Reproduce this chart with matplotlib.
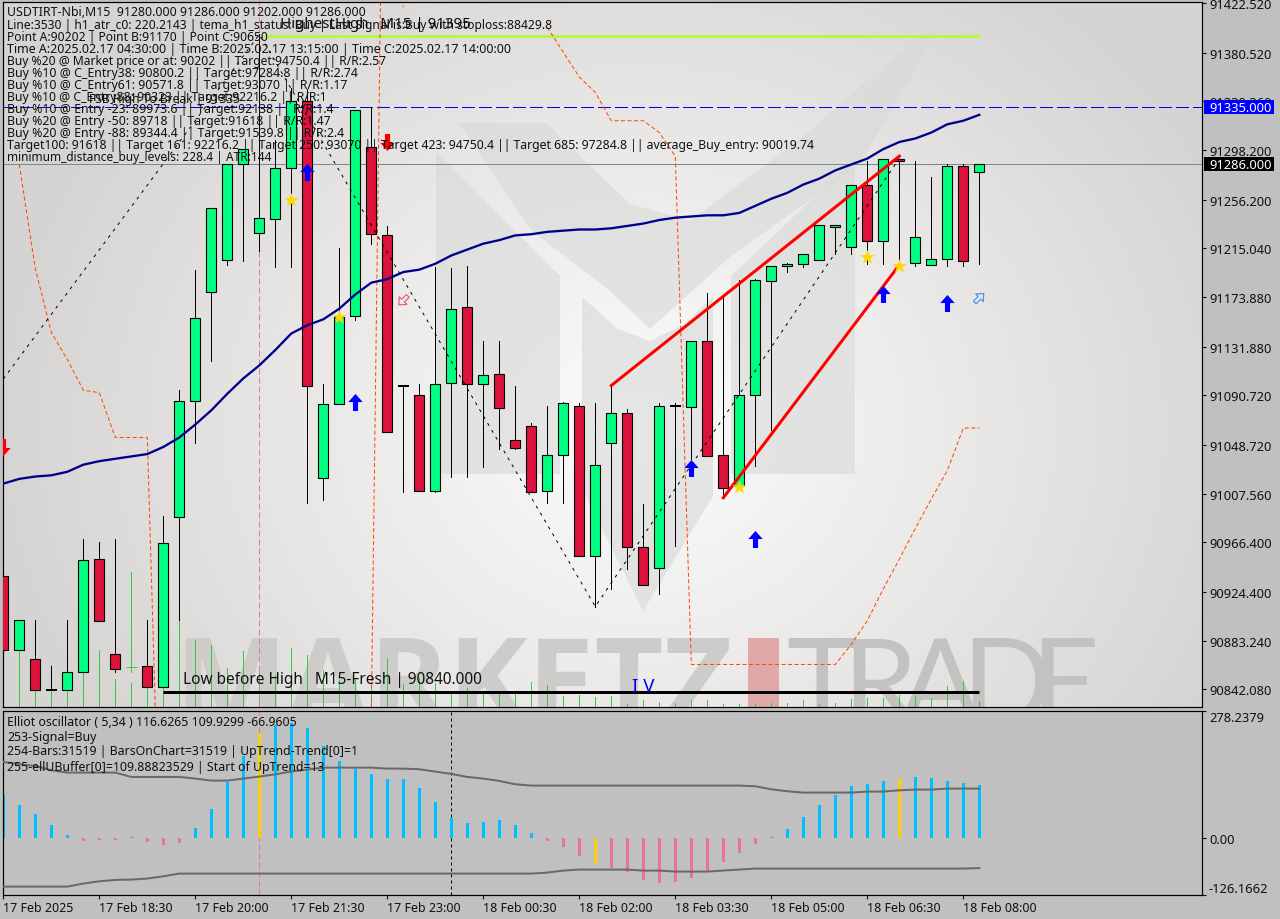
import numpy as np
import matplotlib
matplotlib.use("Agg")
import matplotlib.pyplot as plt
from matplotlib.patches import Polygon, Rectangle
from matplotlib.path import Path

plt.rcParams['font.family'] = ['Noto Sans', 'DejaVu Sans']

# ---------- data ----------
opens = [90938,90875,90868,90841,90841,90857,90952,90872,90861,90862,90844,90988,91086,91178,91205,91286,
         91228,91240,91283,91340,91021,91083,91158,91301,91226,91099,91091,91010,91101,91165,91100,91109,
         91053,91065,91010,91040,91082,90955,91050,91076,90962,90945,91082,91081,91137,91040,91014,91091,
         91187,91200,91202,91205,91233,91216,91269,91221,91291,91203,91201,91206,91285,91280]
highs = [90984,90901,90901,90862,90901,90969,90967,90969,90941,90901,90989,91095,91197,91249,91286,91299,
         91396,91307,91351,91350,91100,91215,91332,91335,91234,91099,91100,91199,91198,91200,91137,91137,
         91099,91067,91082,91085,91084,91084,91099,91079,90999,91084,91084,91137,91177,91174,91188,91189,
         91200,91203,91210,91235,91235,91269,91289,91291,91291,91289,91275,91286,91286,91286]
lows = [90875,90875,90841,90841,90841,90857,90900,90857,90857,90844,90844,90901,91050,91120,91201,91204,
        91213,91199,91199,91000,91002,91083,91154,91219,91060,91009,91010,91009,91022,91022,91030,91045,
        91045,91009,91000,91000,90955,90912,90927,90944,90930,90923,90963,91037,91039,91005,91014,91031,
        91061,91195,91199,91205,91210,91210,91202,91202,91200,91200,91201,91200,91200,91202]
closes = [90875,90901,90841,90841,90857,90951,90900,90859,90861,90844,90966,91086,91156,91249,91286,91299,
          91241,91283,91340,91099,91083,91157,91332,91227,91060,91099,91010,91100,91164,91100,91108,91080,
          91046,91009,91040,91084,90955,91032,91076,90962,90930,91082,91082,91137,91039,91012,91091,91188,
          91200,91202,91210,91235,91235,91269,91221,91291,91289,91225,91206,91285,91204,91286]
volumes = [59,62,52,42,36,41,57,28,24,36,62,88,67,62,39,56,41,32,59,52,37,27,29,21,49,23,29,24,16,19,15,16,
           14,25,22,11,12,10,11,3,7,5,4,7,7,3,3,3,4,4,7,3,4,8,9,9,12,11,9,21,26,6]
ma_line = [91016,91020,91022,91023,91026,91032,91035,91037,91039,91041,91047,91055,91066,91078,91092,91105,
           91116,91129,91143,91150,91155,91164,91176,91186,91189,91195,91197,91202,91209,91214,91219,91222,
           91226,91227,91229,91230,91231,91231,91232,91234,91236,91239,91241,91242,91243,91243,91245,91251,
           91257,91262,91269,91274,91281,91286,91291,91299,91305,91308,91313,91320,91323,91328]
osc = [93.8,71.8,52.7,27.8,6.6,-6.6,-4.4,-4.4,1.5,-8.8,-15.4,-11,22,63.7,123,179.5,230.8,247.6,252.7,241.8,
       201.5,168.5,151.6,140.7,129.7,129.7,109.9,79.1,44,33,35.2,39.6,28.6,11,-6.6,-19.8,-39.6,-57.1,-65.9,
       -74.7,-92.3,-98.9,-96.7,-87.9,-73.3,-52.7,-33,-13.2,1.5,19.8,46.2,72.5,94.5,114.3,118.7,125.3,129.7,
       134,131.9,125.3,120.9,116.63]
osc_signal_bars = [16, 37, 56]
band_up = [166.3,161.2,157.5,148,142.9,142.9,142.9,142.9,133.3,133.3,133.3,133.3,129.7,125.3,125.3,129.7,
           134.1,139.2,145.1,149.5,153.8,153.8,153.8,153.8,151.6,151.6,150.2,145.1,139.9,133.3,129.7,124.5,
           117.2,114.3,114.3,114.3,114.3,114.3,114.3,114.3,114.3,114.3,114.3,114.3,114.3,114.3,114.3,112.8,
           106.2,101.8,98.9,98.9,98.9,98.9,101.1,101.1,104,105.5,105.5,107.7,107.7,107.7]
band_lo = [-107.7,-107.7,-107.7,-107.7,-107.7,-101.1,-96,-93,-92.3,-90.1,-85,-79.1,-79.1,-79.1,-79.1,-79.1,
           -79.1,-79.1,-79.1,-79.1,-79.1,-79.1,-79.1,-79.1,-79.1,-79.1,-79.1,-79.1,-79.1,-79.1,-79.1,-79.1,
           -79.1,-79.1,-76.9,-72.5,-70.3,-70.3,-70.3,-70.3,-72.5,-72.5,-74.7,-74.7,-74.7,-72.5,-70.3,-68.1,
           -68.1,-68.1,-68.1,-68.1,-68.1,-68.1,-68.1,-68.1,-68.1,-68.1,-68.1,-68.1,-68.1,-67]
nan = float('nan')
envelope_left = [nan,91286,91198,91144,91121,91095,91093,91055,91055,91055,90597]
envelope_left_bars = list(range(len(envelope_left)))
envelope_mid = [90821,91874,91419]
envelope_mid_bars = [23,24,25]
envelope_right = [91402,91381,91360,91347,91323,91323,91323,91313,91293,90863,90863,90863,90863,90863,90863,
                  90863,90863,90863,90863,90880,90900,90927,90952,90978,91003,91027,91063,91063]
envelope_right_bars = list(range(34, 62))
zigzag_bars = [0,16,37,56]
zigzag_prices = [91104.5,91396,90912,91291]
wedge_up_bars = [38,56]
wedge_up_prices = [91099,91293]
wedge_lo_bars = [45,56]
wedge_lo_prices = [91004,91201]
buy_arrow_bars = [19,22,43,47,55,59]
buy_arrow_prices = [91280,91085,91029,90969,91176,91169]
sell_arrow_bars = [0,24]
sell_arrow_prices = [91047,91305]
star_bars = [18,21,46,54,56]
star_prices = [91256,91157,91013,91208,91200]
hollow_sell = (25,91171)
hollow_buy = (61,91173)
highest_high = 91395
fsb_high = 91335
last_price = 91286
low_before = 90840
y_ticks = [91422.52,91380.52,91339.36,91298.2,91256.2,91215.04,91173.88,91131.88,91090.72,91048.72,
           91007.56,90966.4,90924.4,90883.24,90842.08]
osc_ticks = [278.2379,0.0,-126.1662]
osc_tick_labels = ['278.2379','0.00','-126.1662']
time_tick_bars = list(range(0,61,6))
time_labels = ['17 Feb 2025','17 Feb 18:30','17 Feb 20:00','17 Feb 21:30','17 Feb 23:00','18 Feb 00:30',
               '18 Feb 02:00','18 Feb 03:30','18 Feb 05:00','18 Feb 06:30','18 Feb 08:00']
info_lines = [
 "USDTIRT-Nbi,M15  91280.000 91286.000 91202.000 91286.000",
 "Line:3530 | h1_atr_c0: 220.2143 | tema_h1_status: Buy | Last Signal is:Buy with stoploss:88429.8",
 "Point A:90202 | Point B:91170 | Point C:90650",
 "Time A:2025.02.17 04:30:00 | Time B:2025.02.17 13:15:00 | Time C:2025.02.17 14:00:00",
 "Buy %20 @ Market price or at: 90202 || Target:94750.4 || R/R:2.57",
 "Buy %10 @ C_Entry38: 90800.2 || Target:97284.8 || R/R:2.74",
 "Buy %10 @ C_Entry61: 90571.8 || Target:93070 || R/R:1.17",
 "Buy %10 @ C_Entry88: 90323 || Target:92216.2 || R/R:1",
 "Buy %10 @ Entry -23: 89973.6 || Target:92138 || R/R:1.4",
 "Buy %20 @ Entry -50: 89718 || Target:91618 || R/R:1.47",
 "Buy %20 @ Entry -88: 89344.4 || Target:91539.8 || R/R:2.4",
 "Target100: 91618 || Target 161: 92216.2 || Target 250: 93070 || Target 423: 94750.4 || Target 685: 97284.8 || average_Buy_entry: 90019.74",
 "minimum_distance_buy_levels: 228.4 | ATR:144",
]
osc_lines = ["Elliot oscillator ( 5,34 ) 116.6265 109.9299 -66.9605",
             "253-Signal=Buy",
             "254-Bars:31519 | BarsOnChart=31519 | UpTrend-Trend[0]=1",
             "255-ellUBuffer[0]=109.88823529 | Start of UpTrend=13"]

# ---------- layout ----------
W, H = 1280, 920
GREEN, RED, GOLD = '#00FF7F', '#DC143C', '#FFD700'
fig = plt.figure(figsize=(W/100, H/100), dpi=100, facecolor='#C0C0C0')
def rect(l, t, r, b):
    return [l/W, 1-b/H, (r-l)/W, (b-t)/H]
ax = fig.add_axes(rect(3, 3, 1202, 708))
osc_ax = fig.add_axes(rect(3, 712, 1202, 896), sharex=ax)
def pxfx(x):   # main panel pixel to axes fraction
    return (x-3)/1199
def pxfy(y):
    return 1-(y-3)/705
def P(pts):
    return [(pxfx(a), pxfy(b)) for a, b in pts]

# background picture of the chart: radial grey gradient with a logo watermark
yy, xx = np.mgrid[3:708:240j, 3:1202:400j]
r = np.sqrt(((xx-640)/640)**2 + ((yy-430)/560)**2)
grad = np.clip(0.985 - 0.145*np.clip(r, 0, 1)**1.1, 0, 1)
rgb = np.dstack([grad, grad*(1-0.008*r.clip(0, 1)), grad*(1-0.018*r.clip(0, 1))])
ax.imshow(rgb, extent=(0, 1, 0, 1), transform=ax.transAxes,
          aspect='auto', zorder=0, interpolation='bilinear')
logo = dict(transform=ax.transAxes, facecolor='#D8D9D8', edgecolor='none', alpha=0.62, zorder=0.2)
for pts in [
    [(436,153),(560,277),(560,475),(436,475)],
    [(459,124),(546,124),(630,205),(690,222),(800,140),(950,10),(860,165),(730,258),(650,330),(610,292),(530,230)],
    [(731,277),(855,160),(855,475),(731,475)],
    [(582,298),(618,330),(650,342),(685,325),(713,297),(713,497),(643,612),(582,490)],
]:
    ax.add_patch(Polygon(P(pts), closed=True, **logo))
ax.add_patch(Rectangle((pxfx(748), pxfy(709)), 31/1199, 70/705, transform=ax.transAxes,
                       facecolor='#E0A8A8', edgecolor='none', zorder=0.3))
ax.text(pxfx(174), pxfy(723), 'MARKETZ', transform=ax.transAxes, fontsize=86, family='Open Sans',
        weight='bold', color='#CCCCCB', ha='left', va='baseline', zorder=0.3, clip_on=True)
for ch, xp in zip('TRADE', [786, 842, 900, 961, 1030]):
    ax.text(pxfx(xp), pxfy(723), ch, transform=ax.transAxes, fontsize=86, family='Lato', weight='normal',
            color='#C2C2C0', ha='left', va='baseline', zorder=0.3, clip_on=True)

bars = np.arange(len(opens))
ax.set_xlim((3-3.3)/16, (1202-3.3)/16)
ax.set_ylim(90827.0, 91423.46)

ax.set_zorder(1)
osc_ax.set_zorder(1)

PX = 72/100
# volumes rise from the panel floor, one unit per 0.8461 of price (one pixel)
ax.vlines(bars, 90827.0, 90827.0+np.array(volumes)*0.8461, color='#3CC83C', lw=1*PX, zorder=1.2, antialiased=False)

# candles
for i, (o, h, l, c) in enumerate(zip(opens, highs, lows, closes)):
    if o == c:
        doji_col = '#32CD32' if i == 8 else 'black'
        ax.vlines(i, l, h, color=doji_col, lw=1*PX, zorder=2, antialiased=False)
        ax.plot([i-0.34, i+0.34], [o, o], color=doji_col, lw=(1 if i == 8 else 2)*PX, zorder=3,
                solid_capstyle='butt')
        continue
    ax.vlines(i, l, h, color='black', lw=1*PX, zorder=2, antialiased=False)
    ax.bar(i, abs(c-o), bottom=min(o, c), width=10/16, facecolor=GREEN if c > o else RED,
           edgecolor='black', linewidth=1.1*PX, zorder=3)

ax.plot(bars, ma_line, color='#00008B', lw=2.3*PX, zorder=4)
for xs, ys in [(envelope_left_bars, envelope_left), (envelope_mid_bars, envelope_mid), (envelope_right_bars, envelope_right)]:
    ax.plot(xs, ys, color='#FF4500', lw=1*PX, dashes=(4, 2.5), zorder=1.6)
ax.plot(zigzag_bars, zigzag_prices, color='black', lw=1*PX, dashes=(3, 5), zorder=3.5)
ax.plot(wedge_up_bars, wedge_up_prices, color='#FF0000', lw=3*PX, zorder=4.5)
ax.plot(wedge_lo_bars, wedge_lo_prices, color='#FF0000', lw=3*PX, zorder=4.5)

# horizontals
ax.plot([16.3, 61], [highest_high]*2, color='#ADFF2F', lw=2.6*PX, zorder=1.5)
ax.axhline(fsb_high, color='#0000E0', lw=1*PX, dashes=(12, 5), zorder=1.5, antialiased=False)
ax.axhline(last_price, color='#778899', lw=1*PX, zorder=1.5, antialiased=False)
ax.plot([10, 61], [low_before]*2, color='black', lw=3*PX, zorder=4, solid_capstyle='butt')
ax.axvline(16, color='#E8739B', lw=1*PX, dashes=(6, 3), zorder=1.4)
osc_ax.axvline(16, color='#E8739B', lw=1*PX, dashes=(6, 3), zorder=1)
osc_ax.axvline(28, color='black', lw=1*PX, dashes=(3, 3), zorder=1)

# signal markers
arrow = Path([(-.3,-1),(.3,-1),(.3,.05),(.85,.05),(0,1),(-.85,.05),(-.3,.05),(-.3,-1)], closed=True)
arrow_dn = Path(arrow.vertices*np.array([1, -1]), closed=True)
ax.scatter(buy_arrow_bars, buy_arrow_prices, marker=arrow, s=150, color='#0000FF', zorder=6, linewidths=0)
ax.scatter(sell_arrow_bars, sell_arrow_prices, marker=arrow_dn, s=150, color='#FF0000', zorder=6, linewidths=0)
ax.scatter(star_bars, star_prices, marker='*', s=120, color=GOLD, zorder=6, linewidths=0)
rot = np.deg2rad(-45)
Rm = np.array([[np.cos(rot), -np.sin(rot)], [np.sin(rot), np.cos(rot)]])
hb = Path(arrow.vertices @ Rm.T, closed=True)
hs = Path(arrow.vertices @ np.array([[np.cos(np.deg2rad(135)), np.sin(np.deg2rad(135))],
                                     [-np.sin(np.deg2rad(135)), np.cos(np.deg2rad(135))]]), closed=True)
ax.scatter(*hollow_buy, marker=hb, s=70, facecolor='none', edgecolor='#3C8CE8', linewidths=0.8, zorder=6)
ax.scatter(*hollow_sell, marker=hs, s=70, facecolor='none', edgecolor='#F05070', linewidths=0.8, zorder=6)

# texts on the main panel
TXT = dict(transform=ax.transAxes, color='#101010', family='Noto Sans', ha='left', va='center', zorder=8)
ys_info = [12.7, 25.7, 37.7, 49.3, 61.7, 73.7, 85.7, 97.7, 109.7, 121.7, 133.7, 145.7, 157.7]
fs_info = [8.85, 8.7, 8.7, 8.96, 8.7, 8.85, 8.85, 8.8, 8.83, 8.83, 8.83, 8.81, 8.57]
for s, yp, fs in zip(info_lines, ys_info, fs_info):
    ax.text(pxfx(7), pxfy(yp), s, fontsize=fs, **TXT)
ax.text(pxfx(280), pxfy(24), 'HighestHigh   M15 | 91395', fontsize=10.9, **TXT)
ax.text(pxfx(89), pxfy(100), 'FSB High To Break | 91335', fontsize=8.7, **TXT)
ax.text(pxfx(183), pxfy(680), 'Low before High   M15-Fresh | 90840.000', fontsize=11.1, **TXT)
ax.text(pxfx(632), pxfy(687), 'I V', transform=ax.transAxes, fontsize=13.5, color='#0000E0', family='Noto Sans',
        ha='left', va='center', zorder=8)

# axes dressing
ax.yaxis.tick_right()
ax.set_yticks(y_ticks)
ax.set_yticklabels([f'{v:.3f}' for v in y_ticks])
ax.tick_params(axis='y', length=3, width=0.8, pad=2, labelsize=9.3, colors='#101010')
ax.tick_params(axis='x', length=0, labelbottom=False)
for a in (ax, osc_ax):
    for sp in a.spines.values():
        sp.set_linewidth(1.2*PX)
        sp.set_color('black')

# current price tags
fig.patches.append(Rectangle((1204/W, 1-115/H), 70/W, 14/H, facecolor='#0000FF', edgecolor='none', transform=fig.transFigure))
fig.patches.append(Rectangle((1204/W, 1-172/H), 70/W, 14/H, facecolor='black', edgecolor='none', transform=fig.transFigure))
fig.text(1209/W, 1-108.5/H, f'{fsb_high:.3f}', color='white', fontsize=9.3, va='center', ha='left', zorder=10)
fig.text(1209/W, 1-165.5/H, f'{last_price:.3f}', color='white', fontsize=9.3, va='center', ha='left', zorder=10)

# oscillator
osc_ax.set_facecolor('#C0C0C0')
osc_ax.set_ylim(-126.1662, 278.2379)
colors = ['#FFD000' if i in osc_signal_bars else ('#00BFFF' if v >= 0 else '#E8739B') for i, v in enumerate(osc)]
osc_ax.bar(bars, osc, width=3/16, color=colors, zorder=2, linewidth=0)
osc_ax.plot(bars, band_up, color='#696969', lw=2*PX, zorder=3)
osc_ax.plot(bars, band_lo, color='#696969', lw=2*PX, zorder=3)
def ofy(y):
    return 1-(y-712)/184
for s, yp in zip(osc_lines, [722.5, 737.5, 752, 767]):
    osc_ax.text(pxfx(7), ofy(yp), s, fontsize=8.85, transform=osc_ax.transAxes, color='#101010',
                ha='left', va='center', zorder=8)
osc_ax.yaxis.tick_right()
osc_ax.set_yticks(osc_ticks)
osc_ax.set_yticklabels(osc_tick_labels)
osc_ax.get_yticklabels()[0].set_va('top')
osc_ax.get_yticklabels()[2].set_va('bottom')
osc_ax.tick_params(axis='y', length=3, width=0.8, pad=2, labelsize=9.3, colors='#101010')
osc_ax.set_xticks(time_tick_bars)
osc_ax.set_xticklabels(time_labels, ha='left')
osc_ax.tick_params(axis='x', length=3, width=0.8, pad=1.5, labelsize=9, colors='#101010')
ax.set_xlim((3-3.3)/16, (1202-3.3)/16)

fig.savefig('out.png', dpi=100, facecolor=fig.get_facecolor())
